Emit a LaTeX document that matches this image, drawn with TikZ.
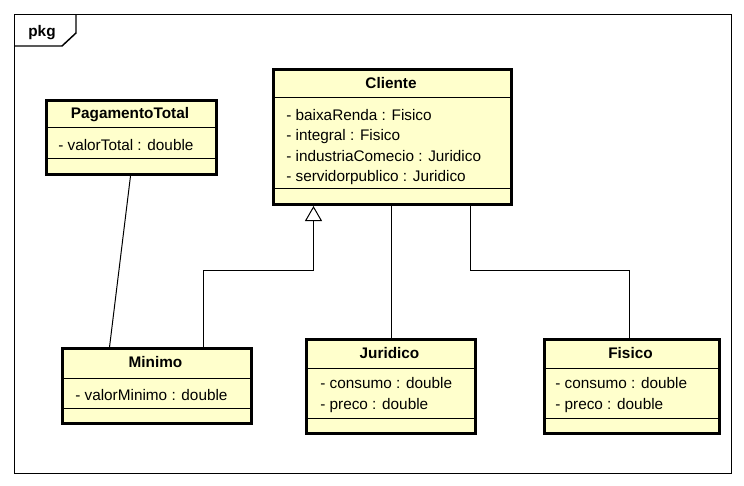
\documentclass[tikz,border=0pt]{standalone}
\usepackage{fontspec}
\setmainfont{Liberation Sans}
\usetikzlibrary{arrows.meta}
\definecolor{umlfill}{HTML}{FFFFCC}

\begin{document}
\begin{tikzpicture}[%
    x=0.75pt,y=-0.75pt,font=\fontsize{11.5}{13.8}\selectfont,
    classbox/.style={%
      draw,line width=2.25pt,fill=umlfill,anchor=north west,inner sep=0pt},
    title/.style={font=\fontsize{11.5}{13.8}\selectfont\bfseries,inner sep=0pt,anchor=base},
    attr/.style={anchor=base west,inner sep=0pt},
    sep/.style={line width=0.75pt},
    assoc/.style={line width=0.75pt},
    gen/.style={line width=0.75pt,-{Triangle[open,length=11.25pt,width=12.75pt]}}
  ]
    \useasboundingbox (0,0) rectangle (744,486);

    % package frame
    \node[draw,line width=1.1pt,anchor=north west,inner sep=0pt,
          minimum width=537.75pt,minimum height=344.25pt] (frame) at (14,14) {};
    \draw[line width=1.1pt] (frame.north west) ++(0,32) -- ++(48,0) -- ++(14,-13) -- ++(0,-19);
    \node[title] (pkg) at (42,36) {pkg};

    % Cliente
    \node[classbox,minimum width=178.5pt,minimum height=101.25pt] (cli) at (272,68) {};
    \node[title] (cliT) at (391,88.5) {Cliente};
    \draw[sep] (cli.west |- 0,97) -- (cli.east |- 0,97);
    \draw[sep] (cli.west |- 0,188) -- (cli.east |- 0,188);
    \node[attr] (cli1) at (286,120) {- baixaRenda : Fisico};
    \node[attr] (cli2) at (286,140.5) {- integral : Fisico};
    \node[attr] (cli3) at (286,161) {- industriaComecio : Juridico};
    \node[attr] (cli4) at (286,181) {- servidorpublico : Juridico};

    % PagamentoTotal
    \node[classbox,minimum width=127.5pt,minimum height=55.5pt] (pag) at (45,99) {};
    \node[title] (pagT) at (130,118.5) {PagamentoTotal};
    \draw[sep] (pag.west |- 0,127) -- (pag.east |- 0,127);
    \draw[sep] (pag.west |- 0,158) -- (pag.east |- 0,158);
    \node[attr] (pag1) at (58,150.5) {- valorTotal : double};

    % Minimo
    \node[classbox,minimum width=141.75pt,minimum height=56.25pt] (mini) at (61,347) {};
    \node[title] (miniT) at (155.5,367.5) {Minimo};
    \draw[sep] (mini.west |- 0,378) -- (mini.east |- 0,378);
    \draw[sep] (mini.west |- 0,408) -- (mini.east |- 0,408);
    \node[attr] (mini1) at (75,400) {- valorMinimo : double};

    % Juridico
    \node[classbox,minimum width=126.75pt,minimum height=70.5pt] (jur) at (305,338) {};
    \node[title] (jurT) at (389.5,358.5) {Juridico};
    \draw[sep] (jur.west |- 0,368) -- (jur.east |- 0,368);
    \draw[sep] (jur.west |- 0,418) -- (jur.east |- 0,418);
    \node[attr] (jur1) at (320,388.5) {- consumo : double};
    \node[attr] (jur2) at (320,409) {- preco : double};

    % Fisico
    \node[classbox,minimum width=131.25pt,minimum height=70.5pt] (fis) at (543,338) {};
    \node[title] (fisT) at (630.5,358.5) {Fisico};
    \draw[sep] (fis.west |- 0,368) -- (fis.east |- 0,368);
    \draw[sep] (fis.west |- 0,418) -- (fis.east |- 0,418);
    \node[attr] (fis1) at (555,388.5) {- consumo : double};
    \node[attr] (fis2) at (555,409) {- preco : double};

    % connectors
    \draw[assoc] ([xshift=-0.75pt]pag.south) -- ([xshift=-35.6pt]mini.north);
    \draw[gen] ([xshift=34.9pt]mini.north) -- ++(0,-77) -| ([xshift=-59.25pt]cli.south);
    \draw[assoc] (jur.north) -- (jur.north |- cli.south);
    \draw[assoc] ([xshift=-2.25pt]fis.north) -- ++(0,-68) -| ([xshift=58.5pt]cli.south);
  \end{tikzpicture}
\end{document}
